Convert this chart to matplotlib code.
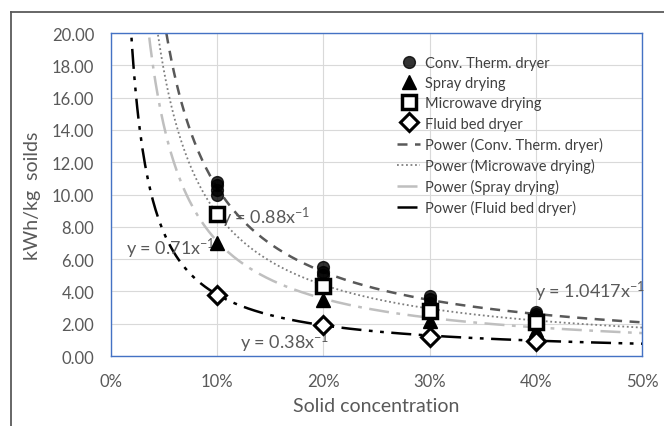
import numpy as np
import matplotlib
matplotlib.use("Agg")
import matplotlib.pyplot as plt
from matplotlib.lines import Line2D

plt.rcParams['font.family'] = ['Lato', 'DejaVu Sans']
plt.rcParams['mathtext.default'] = 'regular'

# measured points (solid fraction, kWh/kg)
conv_x = [0.1, 0.1, 0.1, 0.1, 0.2, 0.2, 0.2, 0.3, 0.3, 0.3, 0.4, 0.4, 0.4]
conv_y = [10.0, 10.3, 10.6, 10.8, 5.0, 5.2, 5.5, 3.3, 3.5, 3.7, 2.5, 2.6, 2.7]
conc = [0.1, 0.2, 0.3, 0.4]
spray_y = [7.0, 3.45, 2.15, 1.6]
micro_y = [8.8, 4.35, 2.8, 2.1]
fluid_y = [3.8, 1.9, 1.2, 0.9]

# power-law fit coefficients (y = a * x^-1)
a_conv = 1.0417
a_micro = 0.88
a_spray = 0.71
a_fluid = 0.38

txt = '#595959'

fig = plt.figure(figsize=(6.64, 4.27), dpi=100)
ax = fig.add_axes([111 / 664, 1 - 357 / 427, 531 / 664, 323 / 427])

# outer chart border (runs off the right and bottom edges)
bx = 10.5 / 664
by = 1 - 12.5 / 427
fig.add_artist(Line2D([bx, 1.0], [by, by], transform=fig.transFigure, color='#5a5a5a', lw=1.3, zorder=10))
fig.add_artist(Line2D([bx, bx], [0.0, by], transform=fig.transFigure, color='#5a5a5a', lw=1.3, zorder=10))

ax.plot(conv_x, conv_y, 'o', color='black', alpha=0.8, ms=8.5, label='Conv. Therm. dryer', zorder=5)
ax.plot(conc, spray_y, '^', color='black', ms=10, label='Spray drying', zorder=6)
ax.plot(conc, micro_y, 's', mfc='white', mec='black', mew=2.5, ms=10, label='Microwave drying', zorder=7)
ax.plot(conc, fluid_y, 'D', mfc='white', mec='black', mew=2.2, ms=9, label='Fluid bed dryer', zorder=8)

xs = np.linspace(0.01, 0.5, 400)
ax.plot(xs, a_conv / xs, color='#595959', lw=1.8, ls=(0, (4, 3)), label='Power (Conv. Therm. dryer)')
ax.plot(xs, a_micro / xs, color='#7f7f7f', lw=1.3, ls=(0, (1, 1.5)), label='Power (Microwave drying)')
ax.plot(xs, a_spray / xs, color='#bfbfbf', lw=1.8, ls=(0, (8, 3, 1.5, 3)), label='Power (Spray drying)')
ax.plot(xs, a_fluid / xs, color='black', lw=1.8, ls=(0, (8, 3, 1.5, 3, 1.5, 3)), label='Power (Fluid bed dryer)')

ax.set_xlim(0, 0.5)
ax.set_ylim(0, 20)
ax.set_xticks(np.arange(0, 0.51, 0.1))
ax.set_yticks(np.arange(0, 20.1, 2))
ax.set_xticklabels([f'{int(round(v * 100))}%' for v in np.arange(0, 0.51, 0.1)])
ax.set_yticklabels([f'{v:.2f}' for v in np.arange(0, 20.1, 2)])
ax.tick_params(length=0, labelsize=12, colors=txt)
ax.tick_params(axis='x', pad=12)
ax.tick_params(axis='y', pad=12)
ax.grid(True, color='#d9d9d9', lw=0.8)
ax.set_axisbelow(True)
for s in ax.spines.values():
    s.set_color('#4472c4')
    s.set_linestyle((0, (1, 1)))
    s.set_linewidth(1.0)

ax.set_xlabel('Solid concentration', fontsize=14, color=txt, labelpad=6)
ax.set_ylabel('kWh/kg  soilds', fontsize=14, color=txt, labelpad=8)

ax.text(0.104, 8.6, 'y = 0.88x$^{-1}$', fontsize=13, color=txt, va='center')
ax.text(0.098, 6.7, 'y = 0.71x$^{-1}$', fontsize=13, color=txt, va='center', ha='right')
ax.text(0.121, 0.9, 'y = 0.38x$^{-1}$', fontsize=13, color=txt, va='center')
ax.text(0.399, 4.0, 'y = 1.0417x$^{-1}$', fontsize=13, color=txt, va='center')

leg = ax.legend(loc='upper right', bbox_to_anchor=(0.945, 0.96), frameon=False, fontsize=10.5,
                labelcolor='#404040', handlelength=1.6, handletextpad=0.3, labelspacing=0.42,
                borderaxespad=0.3)

fig.savefig('out.png', dpi=100)
